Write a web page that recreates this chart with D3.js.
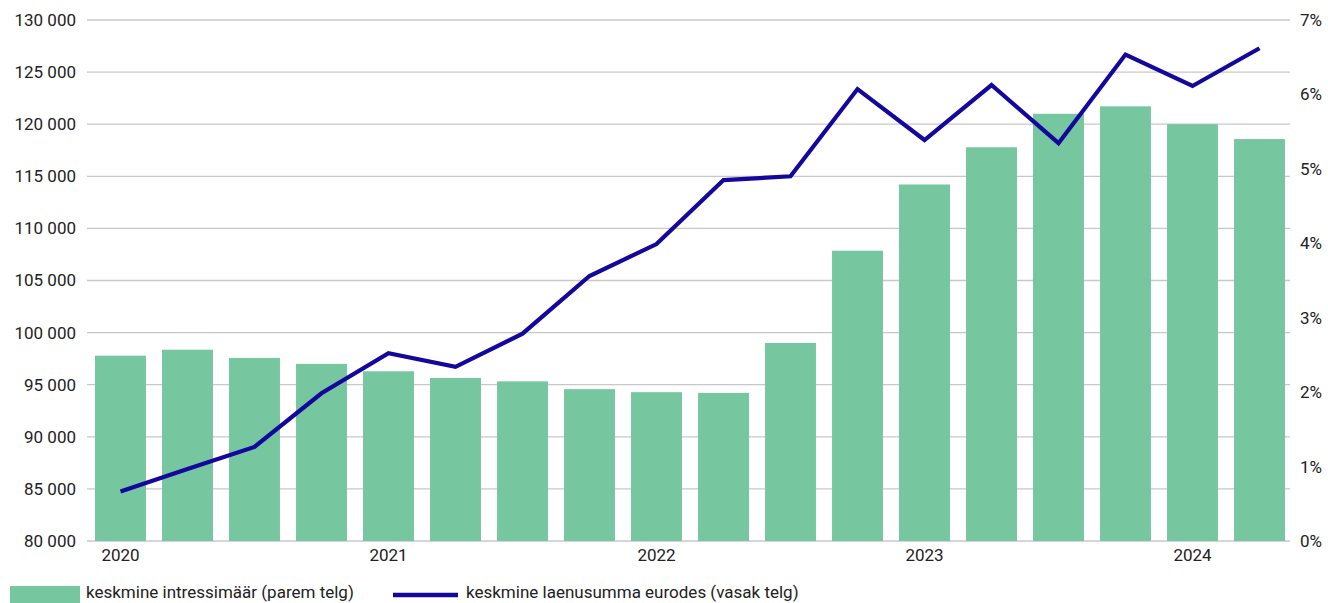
<!DOCTYPE html>
<html><head><meta charset="utf-8">
<script src="https://cdn.jsdelivr.net/npm/d3@7"></script>
<style>body{margin:0;background:#fff}svg{display:block}text{font-family:Roboto,"Liberation Sans",sans-serif}</style>
</head><body><svg id="c" width="1328" height="603"></svg>
<script>
const periods = ["2020Q1","2020Q2","2020Q3","2020Q4","2021Q1","2021Q2","2021Q3","2021Q4","2022Q1","2022Q2","2022Q3","2022Q4","2023Q1","2023Q2","2023Q3","2023Q4","2024Q1","2024Q2"];
const yearLabels = {"2020Q1":"2020","2021Q1":"2021","2022Q1":"2022","2023Q1":"2023","2024Q1":"2024"};
const interestRate = [2.49,2.57,2.46,2.38,2.28,2.19,2.145,2.04,2.0,1.99,2.66,3.9,4.79,5.29,5.74,5.84,5.6,5.4];
const loanAmount = [84750,86900,89030,94180,98020,96720,99900,105430,108500,114640,115000,123370,118480,123760,118180,126680,123670,127290];
const leftTicks = [80000,85000,90000,95000,100000,105000,110000,115000,120000,125000,130000];
const rightTicks = [0,1,2,3,4,5,6,7];
const legendBar = "keskmine intressimäär (parem telg)";
const legendLine = "keskmine laenusumma eurodes (vasak telg)";

const FS = 17;
const svg = d3.select("#c");
const m = {l:87, r:1293, t:20, b:541};
const x = d3.scaleBand().domain(periods).range([m.l, m.r]).paddingInner(0.24).paddingOuter(0.12);
const yL = d3.scaleLinear().domain([80000,130000]).range([m.b, m.t]);
const yR = d3.scaleLinear().domain([0,7]).range([m.b, m.t]);
const fmt = d => d3.format(",")(d).replace(/,/g, " ");

// grid
svg.append("g").selectAll("line").data(leftTicks).join("line")
  .attr("x1", m.l).attr("x2", 1290).attr("y1", d=>yL(d)).attr("y2", d=>yL(d))
  .attr("stroke", "#c8c8c8").attr("stroke-width", 1.3);

// left axis
const gl = svg.append("g").attr("transform", `translate(76,0)`)
  .call(d3.axisLeft(yL).tickValues(leftTicks).tickSize(0).tickPadding(0).tickFormat(fmt));
gl.select(".domain").remove();
gl.selectAll("text").attr("font-size", FS).attr("fill", "#222").attr("font-family","Roboto,sans-serif");

// right axis
const gr = svg.append("g").attr("transform", `translate(1300,0)`)
  .call(d3.axisRight(yR).tickValues(rightTicks).tickSize(0).tickPadding(0).tickFormat(d=>d+"%"));
gr.select(".domain").remove();
gr.selectAll("text").attr("font-size", FS).attr("fill", "#222").attr("font-family","Roboto,sans-serif");

// bars
svg.append("g").selectAll("rect").data(periods).join("rect")
  .attr("x", d=>x(d)).attr("width", x.bandwidth())
  .attr("y", (d,i)=>yR(interestRate[i])).attr("height", (d,i)=>m.b - yR(interestRate[i]))
  .attr("fill", "#76c6a0");

// x axis
const gx = svg.append("g").attr("transform", `translate(0,${m.b})`)
  .call(d3.axisBottom(x).tickSize(0).tickPadding(8).tickFormat(d=>yearLabels[d]||""));
gx.select(".domain").remove();
gx.selectAll("text").attr("font-size", FS).attr("fill", "#222").attr("font-family","Roboto,sans-serif");

// line
const line = d3.line().x((d,i)=>x(periods[i]) + x.bandwidth()/2).y(d=>yL(d));
svg.append("path").datum(loanAmount).attr("d", line)
  .attr("fill","none").attr("stroke","#14079d").attr("stroke-width",4.2).attr("stroke-linejoin","miter");

// legend
const lg = svg.append("g");
lg.append("rect").attr("x",10).attr("y",586).attr("width",70).attr("height",17).attr("fill","#76c6a0");
lg.append("text").attr("x",86).attr("y",598).attr("font-size",FS).attr("fill","#222").text(legendBar);
lg.append("line").attr("x1",393).attr("x2",458).attr("y1",595).attr("y2",595).attr("stroke","#14079d").attr("stroke-width",4.5);
lg.append("text").attr("x",466).attr("y",598).attr("font-size",FS).attr("fill","#222").text(legendLine);
</script></body></html>
